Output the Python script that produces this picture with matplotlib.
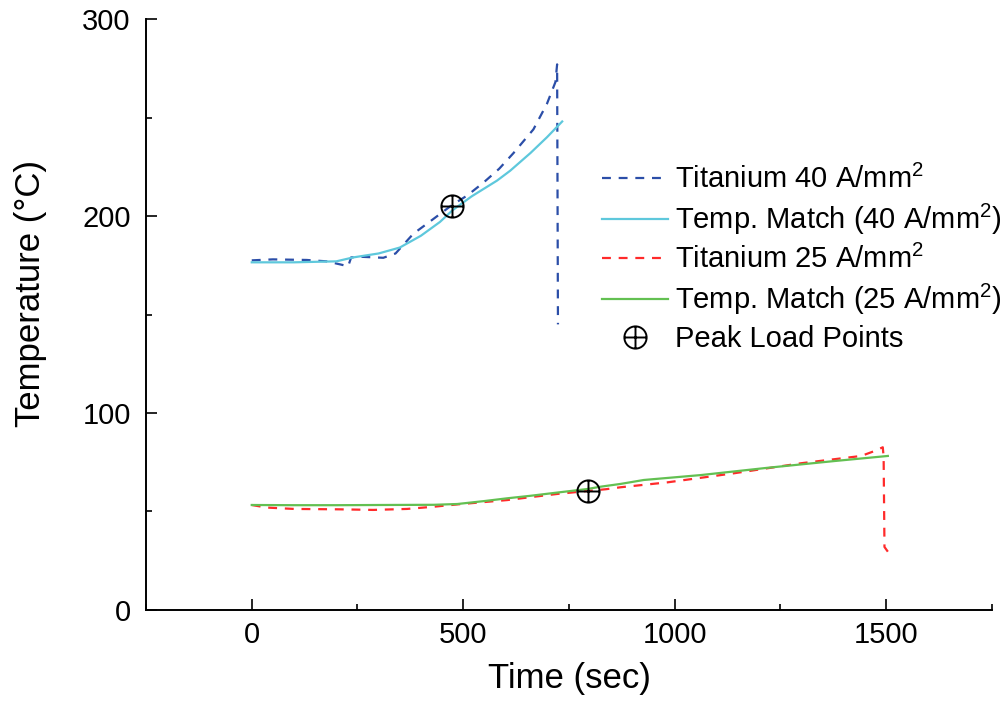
#!/usr/bin/env python3
"""Temperature history of titanium specimens vs. temperature-matched runs."""

import matplotlib
matplotlib.use("Agg")
import matplotlib.pyplot as plt
from matplotlib.path import Path
from matplotlib.ticker import MultipleLocator

plt.rcParams["font.family"] = ["Liberation Sans", "DejaVu Sans"]
plt.rcParams["mathtext.fontset"] = "custom"
plt.rcParams["mathtext.rm"] = "Liberation Sans"
plt.rcParams["mathtext.it"] = "Liberation Sans:italic"
plt.rcParams["mathtext.bf"] = "Liberation Sans:bold"

# Titanium 40 A/mm2 (dashed)
ti40_t = [0, 50, 130, 177, 208, 228, 235, 260, 311, 340, 382, 420, 473, 510,
          548, 585, 619, 666, 698, 718, 722, 724]
ti40_T = [177.5, 178, 177.7, 177, 175.5, 174.5, 179, 179.3, 178.8, 181, 191, 197,
          205.5, 210.5, 217, 224, 232, 244, 257, 268, 277, 145]

# Temp. match 40 A/mm2
tm40_t = [0, 100, 200, 240, 300, 350, 400, 445, 475, 520, 580, 611, 659, 698, 734]
tm40_T = [176.5, 176.5, 177, 179, 181, 184, 190, 197, 203, 210, 218, 223, 232, 240, 248]

# Titanium 25 A/mm2 (dashed)
ti25_t = [0, 35, 100, 208, 287, 367, 429, 486, 550, 604, 660, 722, 793, 837, 872,
          983, 1140, 1299, 1441, 1470, 1492, 1494, 1496, 1504]
ti25_T = [53.3, 52, 51.3, 51.1, 50.8, 51.3, 52.4, 53.6, 54.8, 55.8, 57.3, 58.9, 60.4,
          61.3, 62.3, 64.8, 69.4, 74.5, 78.2, 80.5, 82.6, 77.8, 32, 29.6]

# Temp. match 25 A/mm2
tm25_t = [0, 100, 200, 300, 430, 486, 550, 604, 660, 722, 793, 825, 872, 927,
          1062, 1220, 1377, 1504]
tm25_T = [53.3, 53.2, 53.2, 53.3, 53.4, 53.8, 55.3, 56.7, 58, 59.6, 61.4, 62.6, 64,
          66, 68.5, 72.2, 75.6, 78.2]

# Peak load points
peak_t = [473, 794]
peak_T = [205, 60.5]

# circle-plus marker
circ = Path.unit_circle()
cross = Path([(-1, 0), (1, 0), (0, -1), (0, 1)],
             [Path.MOVETO, Path.LINETO, Path.MOVETO, Path.LINETO])
oplus = Path.make_compound_path(circ, cross)

fig = plt.figure(figsize=(10.07, 7.06), dpi=100)
ax = fig.add_axes([0.145, 0.136, 0.840, 0.837])

dash = (4, 3.5)
ax.plot(ti40_t, ti40_T, color="#2b4ea8", lw=1.6, dashes=dash, label="Titanium 40 A/mm$^2$")
ax.plot(tm40_t, tm40_T, color="#5ec8dc", lw=1.6, label="Temp. Match (40 A/mm$^2$)")
ax.plot(ti25_t, ti25_T, color="#ff2a2a", lw=1.6, dashes=dash, label="Titanium 25 A/mm$^2$")
ax.plot(tm25_t, tm25_T, color="#63c052", lw=1.6, label="Temp. Match (25 A/mm$^2$)")
ax.plot(peak_t, peak_T, ls="none", marker=oplus, ms=16, mfc="none", mec="black",
        mew=1.4, label="Peak Load Points", zorder=5)

ax.set_xlim(-250, 1750)
ax.set_ylim(0, 300)
ax.xaxis.set_major_locator(MultipleLocator(500))
ax.xaxis.set_minor_locator(MultipleLocator(250))
ax.yaxis.set_major_locator(MultipleLocator(100))
ax.yaxis.set_minor_locator(MultipleLocator(50))

for side in ("top", "right"):
    ax.spines[side].set_visible(False)
for side in ("left", "bottom"):
    ax.spines[side].set_linewidth(1.4)

ax.tick_params(which="both", direction="in", width=1.2, labelsize=21)
ax.tick_params(which="major", length=8)
ax.tick_params(which="minor", length=4.5)
ax.tick_params(axis="x", pad=8)
ax.tick_params(axis="y", pad=11)

ax.set_xlabel("Time (sec)", fontsize=25)
ax.set_ylabel("Temperature (°C)", fontsize=25)
ax.xaxis.set_label_coords(0.5, -0.088)
ax.yaxis.set_label_coords(-0.117, 0.536)

ax.legend(loc="upper left", bbox_to_anchor=(0.539, 0.753), frameon=False,
          fontsize=21, handlelength=2.25, handletextpad=0.25, labelspacing=0.27,
          borderpad=0, borderaxespad=0)

fig.savefig("out.png", dpi=100)
